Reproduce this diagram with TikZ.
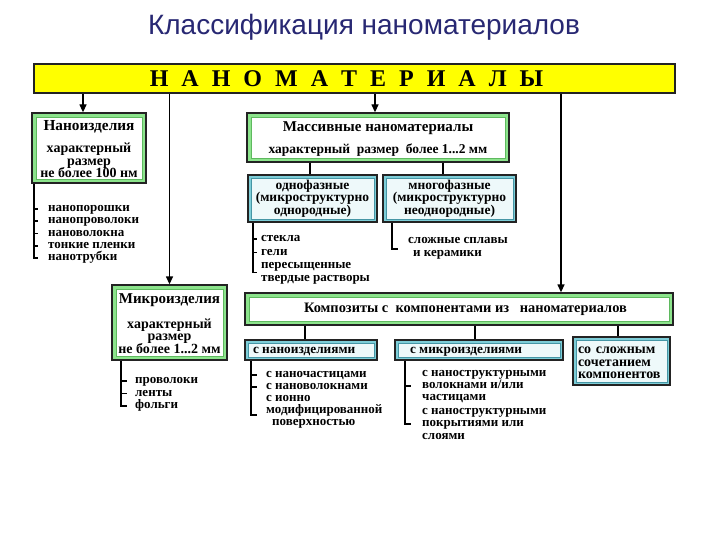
\documentclass[tikz,border=0pt]{standalone}
\usepackage{fontspec}
\setmainfont{Liberation Serif}
\newfontfamily\titlefont{Liberation Sans}
\usetikzlibrary{arrows.meta,calc}
\newcommand\setfs[2]{\fontsize{#1}{#2}\selectfont}
\definecolor{titleblue}{RGB}{40,40,115}
\definecolor{band}{RGB}{140,228,140}
\definecolor{bandin}{RGB}{95,185,95}
\definecolor{cyanband}{RGB}{125,205,215}
\definecolor{cyanline}{RGB}{70,150,165}
\definecolor{cyanin}{RGB}{238,249,250}
\definecolor{edge}{RGB}{35,35,35}
\definecolor{yel}{RGB}{255,255,0}
\begin{document}
\begin{tikzpicture}[x=1pt,y=-1pt,
  tight/.style={execute at begin node={\lineskiplimit=-10pt\lineskip=0pt\relax}},
  greenbox/.style={draw=edge, line width=1.3pt, fill=white, inner sep=0pt, align=center, tight,
    font=\bfseries\setfs{14}{12.5},
    path picture={\draw[band, line width=8pt] (path picture bounding box.south west) rectangle (path picture bounding box.north east);
      \draw[bandin, line width=0.6pt] ([shift={(4pt,4pt)}]path picture bounding box.south west) rectangle ([shift={(-4pt,-4pt)}]path picture bounding box.north east);}},
  cyanbox/.style={draw=edge, line width=1.3pt, fill=cyanin, inner sep=0pt, align=center, tight,
    font=\bfseries\setfs{13.5}{12.5},
    path picture={\draw[cyanband, line width=6pt] (path picture bounding box.south west) rectangle (path picture bounding box.north east);
      \draw[cyanline, line width=0.5pt] ([shift={(3pt,3pt)}]path picture bounding box.south west) rectangle ([shift={(-3pt,-3pt)}]path picture bounding box.north east);}},
  item/.style={font=\bfseries\setfs{13}{12.5}, anchor=west, inner sep=0pt, text height=7pt, text depth=1.5pt, yshift=-1pt},
  arr/.style={draw=black, line width=1.3pt, -{Triangle[length=8pt,width=7pt]}},
  link/.style={draw=black, line width=1.2pt},
  bracket/.style={draw=black, line width=1.1pt}
]
\fill[white] (0,0) rectangle (720,540);
\useasboundingbox (0,0) rectangle (720,540);

% title
\node[font=\titlefont\setfs{28}{28}, text=titleblue, anchor=base, inner sep=0pt] (title) at (364,35) {Классификация наноматериалов};

% top bar
\node[draw=edge, line width=1.3pt, fill=yel, minimum width=641pt, minimum height=29pt, inner sep=0pt,
  font=\bfseries\setfs{24}{24}] (bar) at (354.5,78.5)
  {{\spaceskip=13pt Н А Н О М А Т Е Р И А Л Ы}\hspace*{16pt}};

% main boxes
\node[greenbox, minimum width=114pt, minimum height=70pt] (nano) at (89,148)
  {\rule{0pt}{13pt}{\setfs{15.3}{12.5}Наноизделия}\\[9.5pt]характерный\\размер\\не более 100 нм};
\node[greenbox, minimum width=115pt, minimum height=75pt] (micro) at (169.5,322.5)
  {\rule{0pt}{12pt}{\setfs{15}{12.5}Микроизделия}\\[12.5pt]характерный\\размер\\не более 1...2 мм};
\node[greenbox, minimum width=262pt, minimum height=49pt] (massive) at (378,137.5)
  {\rule{0pt}{13pt}{\setfs{15}{12.5}Массивные наноматериалы}\\[9.5pt]{\setfs{13.5}{12.5}характерный~ размер~ более 1...2 мм}};
\node[greenbox, minimum width=428pt, minimum height=32pt, font=\bfseries\setfs{14.4}{14.4}] (comp) at (459,309)
  {\hspace*{13pt}Композиты с~ компонентами из~~ наноматериалов};

% cyan boxes
\node[cyanbox, minimum width=129pt, minimum height=47pt] (odno) at (312.5,198.5)
  {однофазные\\(микроструктурно\\однородные)};
\node[cyanbox, minimum width=133pt, minimum height=47pt] (mnogo) at (449.5,198.5)
  {многофазные\\(микроструктурно\\неоднородные)};
\node[cyanbox, minimum width=132pt, minimum height=20pt, font=\bfseries\setfs{13.3}{13.3}, text height=9pt, text depth=1.5pt] (cnano) at (311,350)
  {\makebox[116pt][l]{с наноизделиями}};
\node[cyanbox, minimum width=168pt, minimum height=20pt, font=\bfseries\setfs{13.3}{13.3}, text height=9pt, text depth=1.5pt] (cmicro) at (479,350)
  {\makebox[138pt][l]{с микроизделиями}};
\node[cyanbox, minimum height=48pt, text width=87pt, inner xsep=5pt, align=left, font=\bfseries\setfs{14}{12.5}] (cmix) at (621.5,361)
  {\rule{0pt}{11pt}со сложным\\сочетанием\\компонентов};

% arrows from the bar
\coordinate (a1) at (83,0);
\coordinate (a3) at (375,0);
\coordinate (a4) at (561,0);
\draw[arr] (bar.south -| a1) -- (nano.north -| a1);
\draw[arr] (bar.south -| micro.north) -- (micro.north);
\draw[arr] (bar.south -| a3) -- (massive.north -| a3);
\draw[arr] (bar.south -| a4) -- (comp.north -| a4);

% links
\coordinate (l1) at (310,0);
\coordinate (l2) at (443,0);
\coordinate (l3) at (305,0);
\coordinate (l4) at (475,0);
\coordinate (l5) at (618,0);
\draw[link] (massive.south -| l1) -- (odno.north -| l1);
\draw[link] (massive.south -| l2) -- (mnogo.north -| l2);
\draw[link] (comp.south -| l3) -- (cnano.north -| l3);
\draw[link] (comp.south -| l4) -- (cmicro.north -| l4);
\draw[link] (comp.south -| l5) -- (cmix.north -| l5);

% nano list
\node[item] (n1) at (48,208) {нанопорошки};
\node[item] (n2) at (48,220) {нанопроволоки};
\node[item] (n3) at (48,232.5) {нановолокна};
\node[item] (n4) at (48,245) {тонкие пленки};
\node[item] (n5) at (48,257) {нанотрубки};
\coordinate (bn) at (34,0);
\draw[bracket] (nano.south -| bn) |- ([xshift=-10pt]n5.west);
\foreach \i in {n1,n2,n3,n4} \draw[bracket] (\i.west -| bn) -- ([xshift=-10pt]\i.west);

% micro list
\node[item] (m1) at (135,380) {проволоки};
\node[item] (m2) at (135,392.5) {ленты};
\node[item] (m3) at (135,405) {фольги};
\coordinate (bm) at (121,0);
\draw[bracket] (micro.south -| bm) |- ([xshift=-8pt]m3.west);
\foreach \i in {m1,m2} \draw[bracket] (\i.west -| bm) -- ([xshift=-8pt]\i.west);

% odno list
\node[item] (o1) at (261,238) {стекла};
\node[item] (o2) at (261,251.5) {гели};
\node[item] (o3a) at (261,264.5) {пересыщенные};
\node[item] (o3b) at (261,278) {твердые растворы};
\coordinate (o3m) at ($(o3a.west)!0.5!(o3b.west)$);
\coordinate (bo) at (253,0);
\draw[bracket] (odno.south -| bo) |- ([xshift=-4pt]o3m);
\foreach \i in {o1,o2} \draw[bracket] (\i.west -| bo) -- ([xshift=-4pt]\i.west);

% mnogo list
\node[item] (g1a) at (408,240) {сложные сплавы};
\node[item] (g1b) at (413,253) {и керамики};
\coordinate (bg) at (392,0);
\draw[bracket] (mnogo.south -| bg) |- ([xshift=-10pt,yshift=-8pt]g1a.west);

% composite nano list
\node[item] (p1) at (266,374) {с наночастицами};
\node[item] (p2) at (266,386) {с нановолокнами};
\node[item] (p3a) at (266,398) {с ионно};
\node[item] (p3b) at (266,410) {модифицированной};
\node[item] (p3c) at (272,422) {поверхностью};
\coordinate (bp) at (251,0);
\draw[bracket] (cnano.south -| bp) |- ([xshift=-9pt,yshift=-4pt]p3b.west);
\foreach \i in {p1,p2} \draw[bracket] (\i.west -| bp) -- ([xshift=-9pt]\i.west);

% composite micro list
\node[item] (q1a) at (422,373) {с наноструктурными};
\node[item] (q1b) at (422,385) {волокнами и/или};
\node[item] (q1c) at (422,397) {частицами};
\node[item] (q2a) at (422,410.5) {с наноструктурными};
\node[item] (q2b) at (422,423) {покрытиями или};
\node[item] (q2c) at (422,436) {слоями};
\coordinate (bq) at (405,0);
\draw[bracket] (cmicro.south -| bq) |- ([xshift=-11pt]q2b.west);
\draw[bracket] (q1b.west -| bq) -- ([xshift=-11pt]q1b.west);
\end{tikzpicture}
\end{document}
